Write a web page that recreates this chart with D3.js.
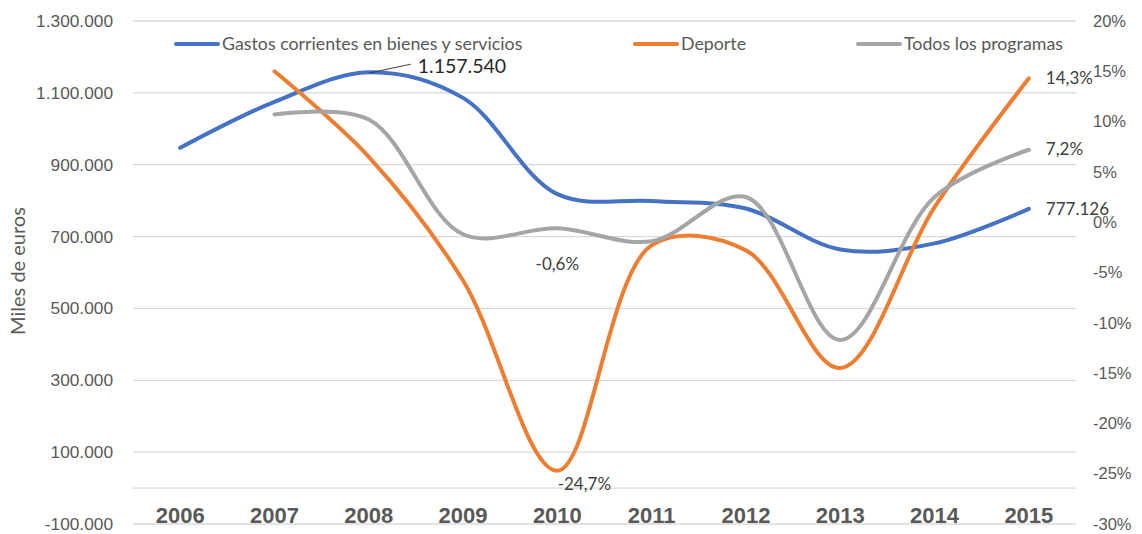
<!DOCTYPE html>
<html>
<head>
<meta charset="utf-8">
<script src="https://cdn.jsdelivr.net/npm/d3@7.9.0/dist/d3.min.js"></script>
<style>
  body { margin: 0; background: #fff; }
  svg { font-family: Lato, 'Open Sans', sans-serif; }
</style>
</head>
<body>
<svg id="chart" width="1142" height="534"></svg>
<script>
const years = ['2006', '2007', '2008', '2009', '2010', '2011', '2012', '2013', '2014', '2015'];
// Miles de euros (left axis)
const gastos = [947000, 1075000, 1157540, 1086000, 818000, 799000, 778000, 664000, 681000, 777126];
// % variation (right axis), first year has no value
const deporte = [null, 15.0, 6.5, -5.8, -24.7, -2.3, -2.8, -14.5, 1.5, 14.3];
const todos = [null, 10.7, 10.2, -1.2, -0.6, -1.9, 2.5, -11.7, 2.5, 7.2];
const leftTicks = [-100000, 100000, 300000, 500000, 700000, 900000, 1100000, 1300000];
const rightTicks = [-30, -25, -20, -15, -10, -5, 0, 5, 10, 15, 20];

const series = [
  { name: 'Gastos corrientes en bienes y servicios', values: gastos, axis: 'left', color: '#4472C4' },
  { name: 'Deporte', values: deporte, axis: 'right', color: '#ED7D31' },
  { name: 'Todos los programas', values: todos, axis: 'right', color: '#A5A5A5' },
];

const svg = d3.select('#chart');
const margin = { left: 133, right: 1076, top: 21, bottom: 524 };

const x = d3.scaleBand().domain(years).range([margin.left, margin.right]);
const yLeft = d3.scaleLinear().domain([-100000, 1300000]).range([margin.bottom, margin.top]);
const yRight = d3.scaleLinear().domain([-30, 20]).range([margin.bottom, margin.top]);

const es = d3.formatLocale({ decimal: ',', thousands: '.', grouping: [3], currency: ['', '€'], minus: '-' });
const fmtInt = es.format(',d');
const fmtPct = (v) => `${es.format('d')(v)}%`;
const fmtPctLabel = (v) => `${es.format('.1f')(v)}%`;

// gridlines every 200.000 plus the zero line
const gridVals = d3.range(-100000, 1300001, 200000).concat([0]);
svg.append('g')
  .selectAll('line')
  .data(gridVals)
  .join('line')
  .attr('x1', margin.left)
  .attr('x2', margin.right)
  .attr('y1', (d) => yLeft(d))
  .attr('y2', (d) => yLeft(d))
  .attr('stroke', '#d9d9d9')
  .attr('stroke-width', 1.3);

// left axis
const leftAxis = svg.append('g')
  .attr('transform', `translate(${margin.left - 20},0)`)
  .call(d3.axisLeft(yLeft).tickValues(leftTicks).tickFormat(fmtInt).tickSize(0).tickPadding(0));
leftAxis.select('.domain').remove();
leftAxis.selectAll('text').attr('fill', '#595959').attr('font-size', 17.3);

// right axis
const rightAxis = svg.append('g')
  .attr('transform', `translate(${margin.right + 17},0)`)
  .call(d3.axisRight(yRight).tickValues(rightTicks).tickFormat(fmtPct).tickSize(0).tickPadding(0));
rightAxis.select('.domain').remove();
rightAxis.selectAll('text').attr('fill', '#595959').attr('font-size', 16.5);

// category labels
const bottomAxis = svg.append('g')
  .attr('transform', `translate(0,${margin.bottom - 17})`)
  .call(d3.axisBottom(x).tickSize(0).tickPadding(0));
bottomAxis.select('.domain').remove();
bottomAxis.selectAll('text')
  .attr('fill', '#595959')
  .attr('font-size', 22)
  .attr('font-weight', 'bold');

// y axis title
svg.append('text')
  .attr('transform', 'translate(25,271) rotate(-90)')
  .attr('text-anchor', 'middle')
  .attr('fill', '#595959')
  .attr('font-size', 20)
  .text('Miles de euros');

// lines
series.forEach((s) => {
  const y = s.axis === 'left' ? yLeft : yRight;
  const line = d3.line()
    .defined((d) => d != null)
    .x((d, i) => x(years[i]) + x.bandwidth() / 2)
    .y((d) => y(d))
    .curve(d3.curveCatmullRom.alpha(0.5));
  svg.append('path')
    .datum(s.values)
    .attr('d', line)
    .attr('fill', 'none')
    .attr('stroke', s.color)
    .attr('stroke-width', 4)
    .attr('stroke-linecap', 'round');
});

// legend
const legendItems = [
  { s: series[0], x: 176 },
  { s: series[1], x: 635 },
  { s: series[2], x: 858 },
];
legendItems.forEach(({ s, x: lx }) => {
  const g = svg.append('g').attr('transform', `translate(${lx},44)`);
  g.append('line')
    .attr('x1', 0).attr('x2', 42)
    .attr('stroke', s.color)
    .attr('stroke-width', 4)
    .attr('stroke-linecap', 'round');
  g.append('text')
    .attr('x', 46)
    .attr('dy', '0.35em')
    .attr('fill', '#595959')
    .attr('font-size', 17.8)
    .text(s.name);
});

const cx = (i) => x(years[i]) + x.bandwidth() / 2;

// data labels
const peak = 2;
svg.append('line')
  .attr('x1', cx(peak))
  .attr('y1', yLeft(gastos[peak]) + 1)
  .attr('x2', cx(peak) + 42)
  .attr('y2', yLeft(gastos[peak]) - 8)
  .attr('stroke', '#404040')
  .attr('stroke-width', 1);
svg.append('text')
  .attr('x', cx(peak) + 49)
  .attr('y', yLeft(gastos[peak]) + 1)
  .attr('fill', '#262626')
  .attr('font-size', 19.5)
  .text(fmtInt(gastos[peak]));

const last = years.length - 1;
const endLabels = [
  { y: yRight(deporte[last]) + 6, text: fmtPctLabel(deporte[last]) },
  { y: yRight(todos[last]) + 5, text: fmtPctLabel(todos[last]) },
  { y: yLeft(gastos[last]) + 6, text: fmtInt(gastos[last]) },
];
endLabels.forEach((d) => {
  svg.append('text')
    .attr('x', cx(last) + 17)
    .attr('y', d.y)
    .attr('fill', '#404040')
    .attr('font-size', 17)
    .text(d.text);
});

svg.append('text')
  .attr('x', cx(4))
  .attr('y', yRight(todos[4]) + 42)
  .attr('text-anchor', 'middle')
  .attr('fill', '#404040')
  .attr('font-size', 17)
  .text(fmtPctLabel(todos[4]));

svg.append('text')
  .attr('x', cx(4) + 27)
  .attr('y', yRight(deporte[4]) + 19)
  .attr('text-anchor', 'middle')
  .attr('fill', '#404040')
  .attr('font-size', 17)
  .text(fmtPctLabel(deporte[4]));
</script>
</body>
</html>
